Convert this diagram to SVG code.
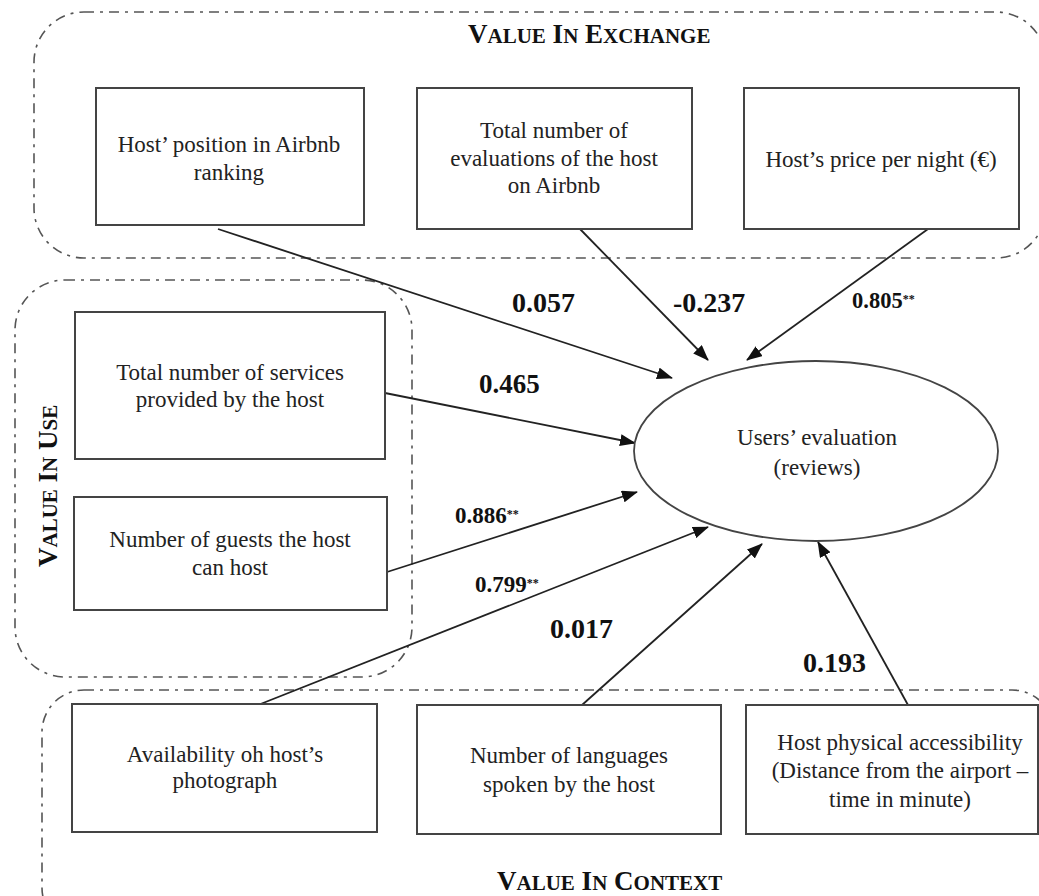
<svg xmlns="http://www.w3.org/2000/svg" width="1039" height="896" viewBox="0 0 1039 896">
<style>
.grp{fill:none;stroke:#555;stroke-width:1.6;stroke-dasharray:10 6 3 6}
.box{fill:#fff;stroke:#444;stroke-width:2}
.t{font-family:"Liberation Serif","Times New Roman",serif;font-size:23px;fill:#222;text-anchor:middle}
.lbl{font-family:"Liberation Serif","Times New Roman",serif;font-weight:bold;fill:#111}
.ttl{font-family:"Liberation Serif","Times New Roman",serif;font-weight:bold;fill:#111;font-size:27px}
.sc{font-size:21px}
.ar{fill:none;stroke:#222;stroke-width:1.8;marker-end:url(#ah)}
</style>
<defs>
<marker id="ah" markerUnits="userSpaceOnUse" markerWidth="16" markerHeight="12" refX="15" refY="6" orient="auto">
<path d="M0,0 L16,6 L0,12 z" fill="#111"/>
</marker>
</defs>
<rect width="1039" height="896" fill="#fff"/>

<g id="group-exchange">
<rect class="grp" x="34" y="12" width="1012" height="246" rx="50"/>
<text class="ttl" x="468" y="43">V<tspan class="sc">ALUE</tspan> I<tspan class="sc">N</tspan> E<tspan class="sc">XCHANGE</tspan></text>
</g>
<g id="group-use">
<rect class="grp" x="15" y="280" width="397" height="397" rx="50"/>
<text class="ttl" transform="translate(57,567) rotate(-90)" x="0" y="0">V<tspan class="sc">ALUE</tspan> I<tspan class="sc">N</tspan> U<tspan class="sc">SE</tspan></text>
</g>
<g id="group-context">
<rect class="grp" x="42" y="690" width="1012" height="240" rx="42"/>
<text class="ttl" x="497" y="890">V<tspan class="sc">ALUE</tspan> I<tspan class="sc">N</tspan> C<tspan class="sc">ONTEXT</tspan></text>
</g>

<g id="connectors">
<line class="ar" x1="218" y1="229" x2="672" y2="378"/>
<line class="ar" x1="580" y1="229" x2="708" y2="360"/>
<line class="ar" x1="928" y1="229" x2="747" y2="360"/>
<line class="ar" x1="385" y1="393" x2="635" y2="443"/>
<line class="ar" x1="387" y1="572" x2="637" y2="492"/>
<line class="ar" x1="258" y1="705" x2="708" y2="527"/>
<line class="ar" x1="582" y1="705" x2="762" y2="544"/>
<line class="ar" x1="908" y1="705" x2="818" y2="542"/>
<text class="lbl" x="512" y="312" font-size="28">0.057</text>
<text class="lbl" x="673" y="312" font-size="28">-0.237</text>
<text class="lbl" x="852" y="308" font-size="22.5">0.805<tspan font-size="12" dy="-5">**</tspan></text>
<text class="lbl" x="479" y="393" font-size="27">0.465</text>
<text class="lbl" x="455" y="523" font-size="23">0.886<tspan font-size="12" dy="-5">**</tspan></text>
<text class="lbl" x="475" y="592" font-size="23">0.799<tspan font-size="12" dy="-5">**</tspan></text>
<text class="lbl" x="550" y="638" font-size="28">0.017</text>
<text class="lbl" x="803" y="672" font-size="28">0.193</text>
</g>

<g id="node-ranking">
<rect class="box" x="96" y="88" width="268" height="137"/>
<text class="t" x="229" y="152">Host’ position in Airbnb</text>
<text class="t" x="229" y="180">ranking</text>
</g>
<g id="node-evaluations">
<rect class="box" x="417" y="88" width="275" height="141"/>
<text class="t" x="554" y="138">Total number of</text>
<text class="t" x="554" y="166">evaluations of the host</text>
<text class="t" x="554" y="193">on Airbnb</text>
</g>
<g id="node-price">
<rect class="box" x="744" y="88" width="275" height="141"/>
<text class="t" x="881" y="167">Host’s price per night (€)</text>
</g>
<g id="node-services">
<rect class="box" x="75" y="312" width="310" height="147"/>
<text class="t" x="230" y="380">Total number of services</text>
<text class="t" x="230" y="407">provided by the host</text>
</g>
<g id="node-guests">
<rect class="box" x="74" y="497" width="313" height="113"/>
<text class="t" x="230" y="547">Number of guests the host</text>
<text class="t" x="230" y="575">can host</text>
</g>
<g id="node-users">
<ellipse cx="816" cy="451" rx="182" ry="90" fill="#fff" stroke="#444" stroke-width="1.8"/>
<text class="t" x="817" y="445">Users’ evaluation</text>
<text class="t" x="817" y="475">(reviews)</text>
</g>
<g id="node-photo">
<rect class="box" x="72" y="704" width="305" height="128"/>
<text class="t" x="225" y="762">Availability oh host’s</text>
<text class="t" x="225" y="788">photograph</text>
</g>
<g id="node-languages">
<rect class="box" x="417" y="705" width="304" height="129"/>
<text class="t" x="569" y="763">Number of languages</text>
<text class="t" x="569" y="792">spoken by the host</text>
</g>
<g id="node-access">
<rect class="box" x="746" y="705" width="292" height="129"/>
<text class="t" x="900" y="750">Host physical accessibility</text>
<text class="t" x="900" y="778">(Distance from the airport –</text>
<text class="t" x="900" y="807">time in minute)</text>
</g>
</svg>
